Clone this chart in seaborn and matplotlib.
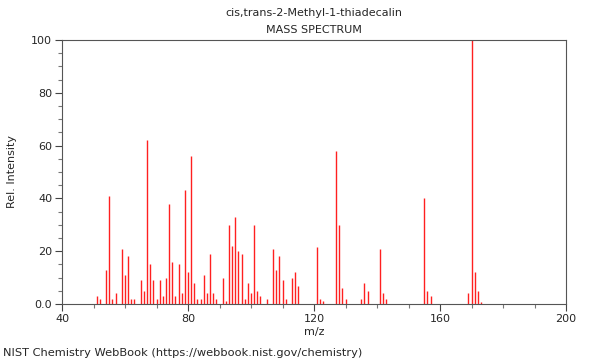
import matplotlib
matplotlib.use("Agg")
import matplotlib.pyplot as plt
import seaborn as sns
import numpy as np
import pandas as pd
from matplotlib.ticker import MultipleLocator

mz = [51, 52, 54, 55, 56, 57, 59, 60, 61, 62, 63, 65, 66, 67, 68, 69, 70, 71, 72, 73, 74,
      75, 76, 77, 78, 79, 80, 81, 82, 83, 84, 85, 86, 87, 88, 89, 91, 92, 93, 94, 95, 96,
      97, 98, 99, 100, 101, 102, 103, 105, 107, 108, 109, 110, 111, 113, 114, 115, 121,
      122, 123, 127, 128, 129, 130, 135, 136, 137, 141, 142, 143, 155, 156, 157, 169, 170,
      171, 172, 173]
intensity = [3, 2, 13, 41, 2, 4, 21, 11, 18, 2, 2, 9, 5, 62, 15, 9, 2, 9, 3, 10, 38,
             16, 3, 15, 4, 43, 12, 56, 8, 2, 2, 11, 4, 19, 4, 2, 10, 1, 30, 22, 33, 20,
             19, 2, 8, 4, 30, 5, 3, 2, 21, 13, 18, 9, 2, 10, 12, 7, 21.5,
             2, 1, 58, 30, 6, 2, 2, 8, 5, 21, 4, 2, 40, 5, 3, 4, 100,
             12, 5, 0.6]

title_line1 = "cis,trans-2-Methyl-1-thiadecalin"
title_line2 = "MASS SPECTRUM"
x_label = "m/z"
y_label = "Rel. Intensity"
footer = "NIST Chemistry WebBook (https://webbook.nist.gov/chemistry)"

df = pd.DataFrame({"mz": mz, "intensity": intensity})

sns.set_style("ticks")
plt.rcParams["font.family"] = ["DejaVu Sans"]

fig = plt.figure(figsize=(6, 3.6), dpi=100)
ax = fig.add_axes([62 / 600, 1 - 304 / 360, 504 / 600, 264 / 360])

ax.vlines(df["mz"], 0, df["intensity"], colors="#ff2020", linewidth=1.0)

ax.set_xlim(40, 200)
ax.set_ylim(0, 100)
ax.xaxis.set_major_locator(MultipleLocator(40))
ax.xaxis.set_minor_locator(MultipleLocator(10))
ax.yaxis.set_major_locator(MultipleLocator(20))
ax.yaxis.set_minor_locator(MultipleLocator(5))
ax.set_yticks([0, 20, 40, 60, 80, 100])
ax.set_yticklabels(["0.0", "20", "40", "60", "80", "100"])
ax.tick_params(axis="both", which="major", labelsize=8, length=5, width=0.8,
               color="#444444", direction="out", pad=2)
ax.tick_params(axis="both", which="minor", length=3, width=0.8, color="#777777",
               direction="out")
for s in ax.spines.values():
    s.set_visible(True)
    s.set_color("#555555")
    s.set_linewidth(0.8)

ax.set_xlabel(x_label, fontsize=8, labelpad=2)
ax.set_ylabel(y_label, fontsize=8, labelpad=10.5)

fig.text(314 / 600, 1 - 13 / 360, title_line1, ha="center", va="center", fontsize=8)
fig.text(314 / 600, 1 - 30 / 360, title_line2, ha="center", va="center", fontsize=8)
fig.text(3 / 600, 1 - 353 / 360, footer, ha="left", va="center", fontsize=8.2)

fig.savefig("out.png", dpi=100)
